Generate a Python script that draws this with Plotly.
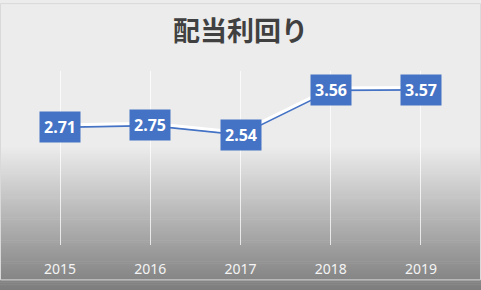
import plotly.graph_objects as go

years = ["2015", "2016", "2017", "2018", "2019"]
yields = [2.71, 2.75, 2.54, 3.56, 3.57]
title_text = "配当利回り"

W, H = 481, 290
ML, MR, MT, MB = 15, 15, 71, 37
PW, PH = W - ML - MR, H - MT - MB
BLUE = "#4472c4"

xs = list(range(len(years)))

def py2paper(py):
    return (H - MB - py) / PH

def px2paper(px):
    return (px - ML) / PW

fig = go.Figure()

fig.add_trace(go.Scatter(x=xs, y=yields, mode="lines", yaxis="y2",
                         line=dict(color="white", width=3), hoverinfo="skip",
                         showlegend=False))
fig.add_trace(go.Scatter(x=xs, y=yields, mode="lines",
                         line=dict(color=BLUE, width=2.25), showlegend=False))

annotations = []
for xi, v in zip(xs, yields):
    annotations.append(dict(x=xi, y=v, xref="x", yref="y", text="<b>%.2f</b>" % v,
                            showarrow=False, bgcolor=BLUE, borderpad=4,
                            font=dict(family="Noto Sans", size=16, color="white")))

shapes = []
top, bot = 150, 300
c0, c1 = 236, 125
n = 75
for i in range(n):
    y0 = top + (bot - top) * i / n
    y1 = top + (bot - top) * (i + 1) / n + 0.6
    c = round(c0 + (c1 - c0) * (i + 0.5) / n)
    shapes.append(dict(type="rect", xref="paper", yref="paper",
                       x0=px2paper(-5), x1=px2paper(W + 5), y0=py2paper(y1), y1=py2paper(y0),
                       fillcolor="rgb(%d,%d,%d)" % (c, c, c), line=dict(width=0), layer="below"))
shapes.append(dict(type="rect", xref="paper", yref="paper",
                   x0=px2paper(0.5), x1=px2paper(W - 0.5),
                   y0=py2paper(H - 0.5), y1=py2paper(0.5),
                   line=dict(color="#d9d9d9", width=1), layer="above"))

d = 2.2 / (PH / 4)
fig.update_layout(
    width=W, height=H,
    margin=dict(l=ML, r=MR, t=MT, b=MB),
    paper_bgcolor="#ececec", plot_bgcolor="rgba(0,0,0,0)",
    title=dict(text=title_text, x=0.5, xanchor="center", y=1 - 32 / H, yanchor="middle",
               yref="container",
               font=dict(family="Noto Sans CJK JP", size=27, color="#404040", weight=700)),
    xaxis=dict(range=[-0.5, 4.5], tickvals=xs, ticktext=years,
               showgrid=True, gridcolor="rgba(255,255,255,0.75)",
               gridwidth=1, showline=False, zeroline=False,
               ticks="outside", ticklen=11, tickcolor="rgba(0,0,0,0)",
               tickfont=dict(family="Noto Sans", size=14, color="#f4f4f4")),
    yaxis=dict(range=[0, 4], showticklabels=False, showgrid=False, zeroline=False,
               showline=False, ticks=""),
    yaxis2=dict(range=[-d, 4 - d], overlaying="y", showticklabels=False, showgrid=False,
                zeroline=False, showline=False, ticks=""),
    shapes=shapes,
    annotations=annotations,
    showlegend=False,
)

fig.write_html("out.html")
